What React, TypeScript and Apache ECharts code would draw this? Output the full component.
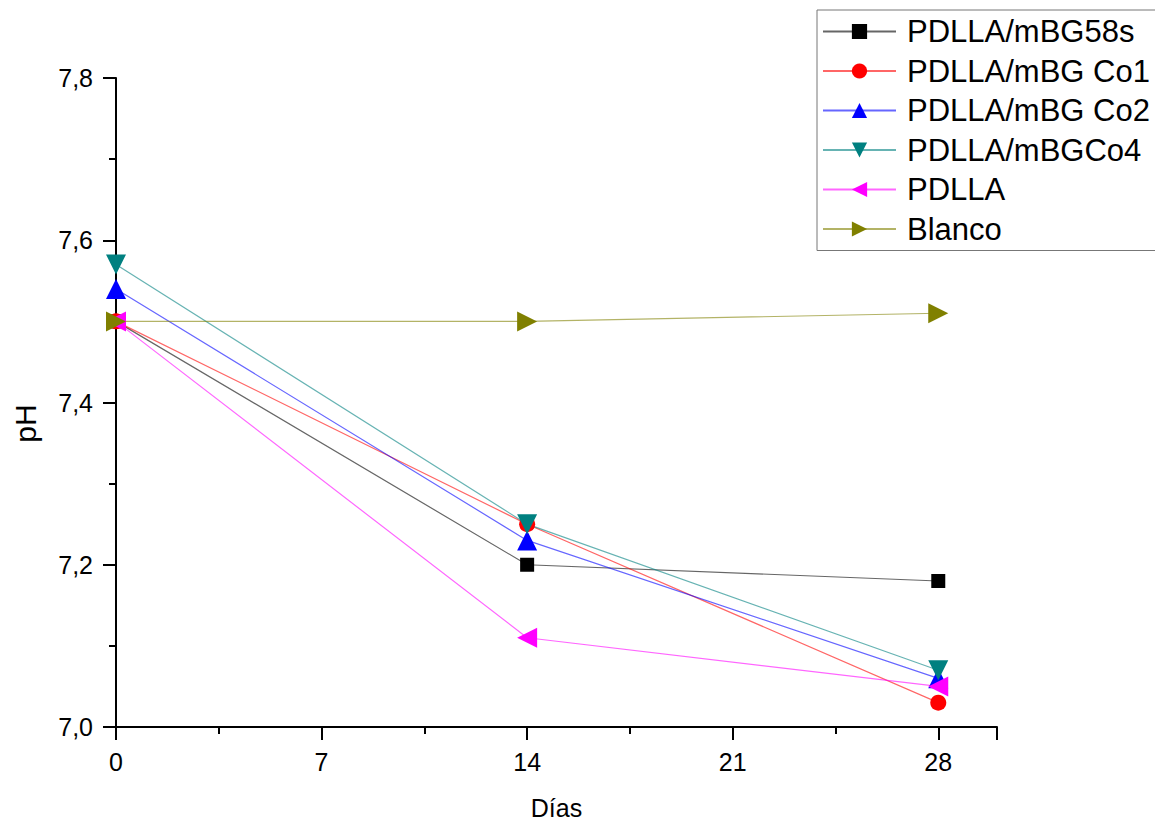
import React, { useEffect, useRef } from "react";
import * as echarts from "echarts";

// Días de inmersión
const dias = [0, 14, 28];

// pH medido para cada muestra
const mbg58s = [7.5, 7.2, 7.18];
const mbgCo1 = [7.5, 7.25, 7.03];
const mbgCo2 = [7.54, 7.23, 7.06];
const mbgCo4 = [7.57, 7.25, 7.07];
const pdlla = [7.5, 7.11, 7.05];
const blanco = [7.5, 7.5, 7.51];

const seriesDefs = [
  { name: "PDLLA/mBG58s", data: mbg58s, color: "#000000", symbol: "rect", rotate: 0, size: 14 },
  { name: "PDLLA/mBG Co1", data: mbgCo1, color: "#FF0000", symbol: "circle", rotate: 0, size: 16 },
  { name: "PDLLA/mBG Co2", data: mbgCo2, color: "#0000FF", symbol: "triangle", rotate: 0, size: 20 },
  { name: "PDLLA/mBGCo4", data: mbgCo4, color: "#008080", symbol: "triangle", rotate: 180, size: 20 },
  { name: "PDLLA", data: pdlla, color: "#FF00FF", symbol: "triangle", rotate: 90, size: 20 },
  { name: "Blanco", data: blanco, color: "#808000", symbol: "triangle", rotate: -90, size: 20 },
];

const FONT = "'Liberation Sans', Arial, sans-serif";

export default function App() {
  const ref = useRef<HTMLDivElement>(null);

  useEffect(() => {
    if (!ref.current) return;
    const chart = echarts.init(ref.current, undefined, { renderer: "svg" });
    chart.setOption({
      animation: false,
      backgroundColor: "#ffffff",
      textStyle: { fontFamily: FONT },
      grid: { left: 116, right: 166, top: 78, bottom: 96, containLabel: false },
      legend: {
        orient: "vertical",
        left: 817,
        top: 10,
        padding: [6, 6, 6, 5],
        itemGap: 8.5,
        itemWidth: 73,
        itemHeight: 19,
        borderColor: "#777777",
        borderWidth: 1,
        borderRadius: 0,
        textStyle: { fontSize: 31, color: "#000000", fontFamily: FONT, padding: [0, 0, 0, 6] },
        data: seriesDefs.map((s) => s.name),
      },
      xAxis: {
        type: "value",
        min: 0,
        max: 30,
        interval: 7,
        name: "Días",
        nameLocation: "middle",
        nameGap: 68,
        nameTextStyle: { fontSize: 25, color: "#000000", fontFamily: FONT },
        axisLine: { show: true, onZero: false, lineStyle: { color: "#000000", width: 2 } },
        axisTick: { show: true, inside: false, length: 13, lineStyle: { color: "#000000", width: 2 } },
        minorTick: { show: true, splitNumber: 2, length: 7, lineStyle: { color: "#000000", width: 2 } },
        axisLabel: {
          fontSize: 25,
          color: "#000000",
          margin: 22,
          fontFamily: FONT,
          formatter: (v: number) => (v % 7 === 0 && v <= 28 ? String(v) : ""),
        },
        splitLine: { show: false },
      },
      yAxis: {
        type: "value",
        min: 7.0,
        max: 7.8,
        interval: 0.2,
        name: "pH",
        nameLocation: "middle",
        nameGap: 76,
        nameRotate: 90,
        nameTextStyle: { fontSize: 30, color: "#000000", fontFamily: FONT, padding: [0, 42, 0, 0] },
        axisLine: { show: true, onZero: false, lineStyle: { color: "#000000", width: 2 } },
        axisTick: { show: true, inside: false, length: 13, lineStyle: { color: "#000000", width: 2 } },
        minorTick: { show: true, splitNumber: 2, length: 7, lineStyle: { color: "#000000", width: 2 } },
        axisLabel: {
          fontSize: 25,
          color: "#000000",
          margin: 23,
          fontFamily: FONT,
          formatter: (v: number) => v.toFixed(1).replace(".", ","),
        },
        splitLine: { show: false },
      },
      series: seriesDefs.map((s) => ({
        name: s.name,
        type: "line",
        data: dias.map((d, i) => [d, s.data[i]]),
        symbol: s.symbol,
        symbolSize: s.size,
        symbolRotate: s.rotate,
        showAllSymbol: true,
        color: s.color,
        itemStyle: { color: s.color, opacity: 1 },
        lineStyle: { color: s.color, width: 1.2, opacity: 0.6 },
        emphasis: { disabled: true },
      })),
    });
    return () => chart.dispose();
  }, []);

  return <div ref={ref} style={{ width: 1163, height: 825, margin: -8 }} />;
}
